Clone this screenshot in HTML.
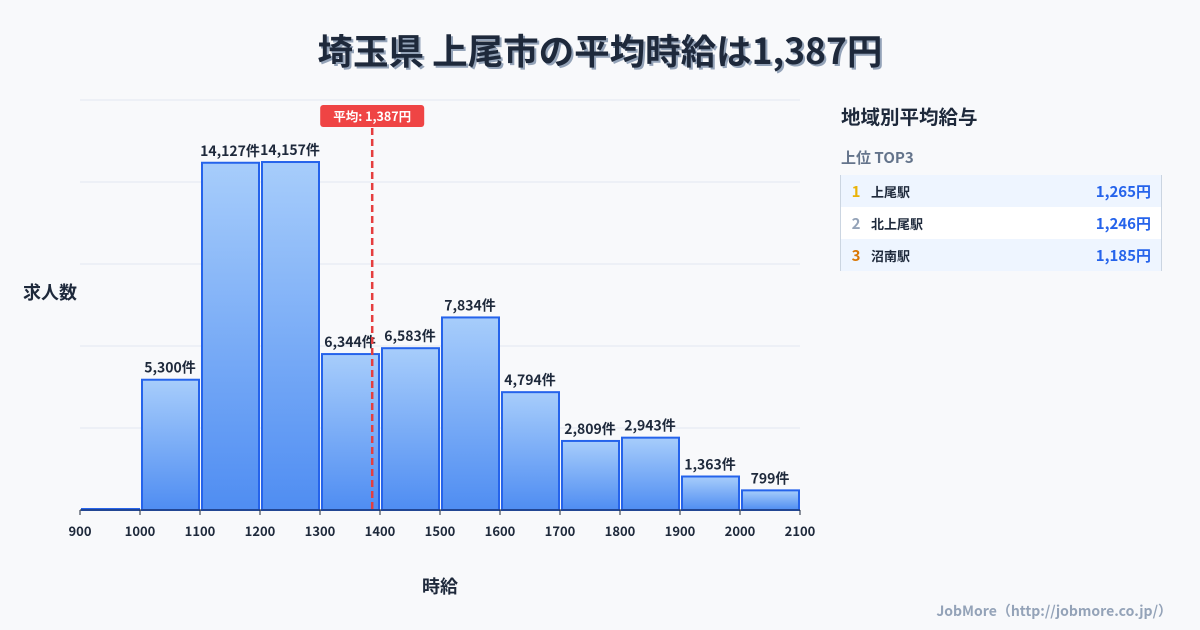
<!DOCTYPE html>
<html><head><meta charset="utf-8"><style>
body{margin:0;width:1200px;height:630px;background:#f8f9fb;font-family:"Noto Sans CJK JP","Liberation Sans",sans-serif;overflow:hidden;position:relative;color:#1e293b}
.t{position:absolute;font-weight:bold}
</style></head><body>
<div class="t" style="left:0;width:1200px;top:25px;text-align:center;font-size:35.5px;line-height:50px;text-shadow:2px 2px 0 #94a3b8">埼玉県 上尾市の平均時給は1,387円</div>
<svg width="1200" height="630" style="position:absolute;left:0;top:0;font-family:'Noto Sans CJK JP','Liberation Sans',sans-serif">
<defs><linearGradient id="g" x1="0" y1="0" x2="0" y2="1"><stop offset="0" stop-color="#a7cdfb"/><stop offset="1" stop-color="#4f8df2"/></linearGradient></defs>
<g id="grid"></g><g id="bars"></g><g id="axis"></g>
<text x="50" y="299" font-size="18" font-weight="bold" text-anchor="middle" fill="#1e293b">求人数</text>
<text x="440" y="593" font-size="18" font-weight="bold" text-anchor="middle" fill="#1e293b">時給</text>
</svg>
<div class="t" style="left:841px;top:102px;font-size:19.5px;line-height:28px">地域別平均給与</div>
<div class="t" style="left:841px;top:147px;font-size:15px;line-height:22px;color:#64748b">上位 TOP3</div>
<div style="position:absolute;left:840px;top:175px;width:320px;border-left:1px solid #cbd5e1;border-right:1px solid #cbd5e1;font-size:13px;font-weight:bold">
<div style="height:32px;background:#eef5ff;display:flex;align-items:center"><span style="width:30px;text-align:center;color:#eab308;font-size:15px">1</span><span>上尾駅</span><span style="margin-left:auto;margin-right:10px;color:#2563eb;font-size:15px">1,265円</span></div>
<div style="height:32px;background:#fff;display:flex;align-items:center"><span style="width:30px;text-align:center;color:#94a3b8;font-size:15px">2</span><span>北上尾駅</span><span style="margin-left:auto;margin-right:10px;color:#2563eb;font-size:15px">1,246円</span></div>
<div style="height:32px;background:#eef5ff;display:flex;align-items:center"><span style="width:30px;text-align:center;color:#d97706;font-size:15px">3</span><span>沼南駅</span><span style="margin-left:auto;margin-right:10px;color:#2563eb;font-size:15px">1,185円</span></div>
</div>
<div class="t" style="right:28px;top:601px;font-size:14px;line-height:20px;color:#94a3b8">JobMore（http://jobmore.co.jp/）</div>
<script>
const binStarts=[900,1000,1100,1200,1300,1400,1500,1600,1700,1800,1900,2000];
const counts=[40,5300,14127,14157,6344,6583,7834,4794,2809,2943,1363,799];
const labels=["","5,300件","14,127件","14,157件","6,344件","6,583件","7,834件","4,794件","2,809件","2,943件","1,363件","799件"];
const xTicks=[900,1000,1100,1200,1300,1400,1500,1600,1700,1800,1900,2000,2100];
const average=1387;
const NS="http://www.w3.org/2000/svg";
const X0=80,X1=800,XMIN=900,XMAX=2100,Y0=510,YT=100,YMAX=16680;
const x=v=>X0+(v-XMIN)/(XMAX-XMIN)*(X1-X0);
const y=v=>Y0-v/YMAX*(Y0-YT);
function mk(t,a,p){const e=document.createElementNS(NS,t);for(const k in a)e.setAttribute(k,a[k]);p.appendChild(e);return e;}
const grid=document.getElementById('grid'),bars=document.getElementById('bars'),axis=document.getElementById('axis');
for(let i=0;i<=5;i++){const l=mk('line',{x1:X0,x2:X1,y1:Y0-i*(Y0-YT)/5,y2:Y0-i*(Y0-YT)/5,stroke:'#e2e8f0'},grid);

}
binStarts.forEach((b,i)=>{
const r=mk('rect',{x:x(b)+2,y:y(counts[i]),width:x(b+100)-x(b)-3,height:Y0-y(counts[i]),fill:'url(#g)',stroke:'#2563eb','stroke-width':2},bars);


if(labels[i]){const t=mk('text',{x:x(b+50),y:y(counts[i])-7,'text-anchor':'middle','font-size':14,'font-weight':'bold',fill:'#1e293b'},bars);t.textContent=labels[i];

}
});
const al=mk('line',{x1:x(average),x2:x(average),y1:128,y2:Y0,stroke:'#e53e3e','stroke-width':2.5,'stroke-dasharray':'7,4'},bars);


const ab=mk('rect',{x:x(average)-52,y:105,width:104,height:22,rx:3,fill:'#ef4444'},bars);


const at=mk('text',{x:x(average),y:121,'text-anchor':'middle','font-size':12.5,'font-weight':'bold',fill:'#fff'},bars);at.textContent='平均: 1,387円';


const ax=mk('line',{x1:X0,x2:X1,y1:Y0,y2:Y0,stroke:'#1e293b'},axis);


xTicks.forEach(v=>{const tk=mk('line',{x1:x(v),x2:x(v),y1:Y0,y2:Y0+5,stroke:'#1e293b'},axis);


const t=mk('text',{x:x(v),y:536,'text-anchor':'middle','font-size':13,'font-weight':'bold',fill:'#1e293b'},axis);t.textContent=v;

});
</script>
</body></html>
